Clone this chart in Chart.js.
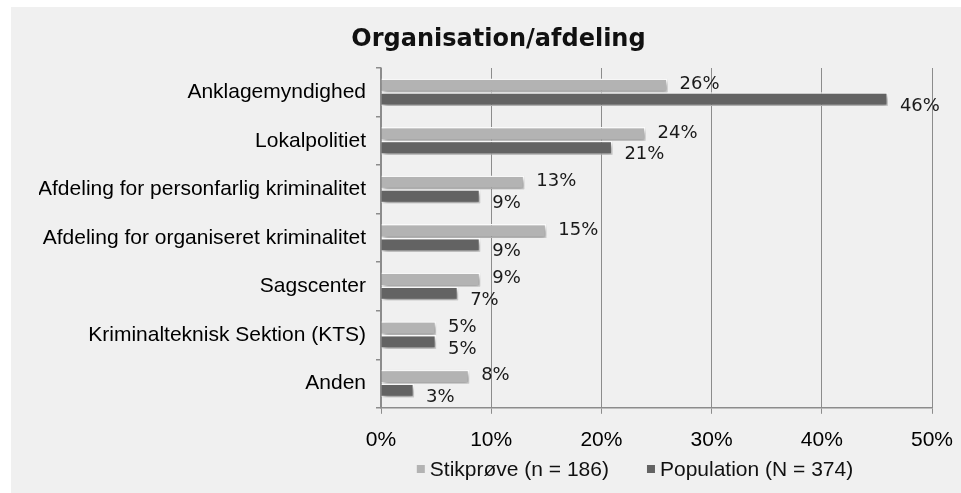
<!DOCTYPE html>
<html>
<head>
<meta charset="utf-8">
<title>Organisation/afdeling</title>
<script src="https://cdn.jsdelivr.net/npm/chart.js@4.4.0/dist/chart.umd.min.js"></script>
<style>
  html, body { margin: 0; padding: 0; background: #ffffff; }
  #wrap { width: 961px; height: 493px; }
</style>
</head>
<body>
<div id="wrap"><canvas id="orgChart" width="961" height="493"></canvas></div>
<script>
// ---- data ----
const categories = [
  "Anklagemyndighed",
  "Lokalpolitiet",
  "Afdeling for personfarlig kriminalitet",
  "Afdeling for organiseret kriminalitet",
  "Sagscenter",
  "Kriminalteknisk Sektion (KTS)",
  "Anden"
];
const stikproeve = [26, 24, 13, 15, 9, 5, 8];
const population = [46, 21, 9, 9, 7, 5, 3];
const xTicks = [0, 10, 20, 30, 40, 50];
const seriesNames = ["Stikprøve (n = 186)", "Population (N = 374)"];

const LABEL_FONT = '"Liberation Sans", Arial, sans-serif';
const VALUE_FONT = '"DejaVu Sans", sans-serif';

// grey panel behind the chart (white strip at left and top)
const panelBg = {
  id: "panelBg",
  beforeDraw(chart) {
    const ctx = chart.ctx;
    ctx.save();
    ctx.fillStyle = "#f0f0f0";
    ctx.fillRect(11, 7, chart.width - 11, chart.height - 7);
    ctx.restore();
  }
};

// soft drop shadow under the bars
const barShadow = {
  id: "barShadow",
  beforeDatasetsDraw(chart) {
    const ctx = chart.ctx;
    ctx.save();
    ctx.shadowColor = "rgba(0,0,0,0.4)";
    ctx.shadowBlur = 5;
    ctx.shadowOffsetX = 2;
    ctx.shadowOffsetY = 3;
  },
  afterDatasetsDraw(chart) {
    chart.ctx.restore();
  }
};

// percentage labels at the bar ends
const valueLabels = {
  id: "valueLabels",
  afterDatasetsDraw(chart) {
    const ctx = chart.ctx;
    ctx.save();
    ctx.font = "18px " + VALUE_FONT;
    ctx.fillStyle = "#1a1a1a";
    ctx.textBaseline = "middle";
    chart.data.datasets.forEach((ds, i) => {
      const dy = i === 0 ? -1 : 7;
      chart.getDatasetMeta(i).data.forEach((bar, j) => {
        ctx.fillText(ds.data[j] + "%", bar.x + 12, bar.y + dy);
      });
    });
    ctx.restore();
  }
};

// legend row under the axis (sits off-centre like the original)
const bottomLegend = {
  id: "bottomLegend",
  afterDraw(chart) {
    const ctx = chart.ctx;
    const box = 8, gap = 5, itemGap = 38, cy = 469, cx = 635;
    ctx.save();
    ctx.font = "21px " + LABEL_FONT;
    ctx.textBaseline = "middle";
    const items = chart.data.datasets.map(ds => ({
      text: ds.label, color: ds.backgroundColor, w: ctx.measureText(ds.label).width
    }));
    let total = 0;
    items.forEach((it, i) => { total += box + gap + it.w + (i ? itemGap : 0); });
    let x = cx - total / 2;
    items.forEach(it => {
      ctx.fillStyle = it.color;
      ctx.fillRect(x, cy - box / 2, box, box);
      ctx.fillStyle = "#111";
      ctx.fillText(it.text, x + box + gap, cy + 1);
      x += box + gap + it.w + itemGap;
    });
    ctx.restore();
  }
};

new Chart(document.getElementById("orgChart"), {
  type: "bar",
  data: {
    labels: categories,
    datasets: [
      {
        label: seriesNames[0],
        data: stikproeve,
        backgroundColor: "#b3b3b3",
        borderColor: "#ffffff",
        borderWidth: 1.5,
        categoryPercentage: 0.57,
        barPercentage: 1.0
      },
      {
        label: seriesNames[1],
        data: population,
        backgroundColor: "#636363",
        borderColor: "#ffffff",
        borderWidth: 1.5,
        categoryPercentage: 0.57,
        barPercentage: 1.0
      }
    ]
  },
  options: {
    indexAxis: "y",
    responsive: false,
    animation: false,
    layout: { padding: { left: 39, right: 3, top: 0, bottom: 26 } },
    plugins: {
      legend: { display: false },
      tooltip: { enabled: false },
      title: {
        display: true,
        text: "Organisation/afdeling",
        color: "#111",
        font: { family: VALUE_FONT, size: 24, weight: "bold" },
        padding: { top: 25.6, bottom: 13.6 }
      }
    },
    scales: {
      x: {
        min: xTicks[0],
        max: xTicks[xTicks.length - 1],
        afterFit(scale) { scale.paddingRight = 29; },
        grid: { color: "#8c8c8c", lineWidth: 1, tickLength: 6 },
        border: { color: "#8c8c8c", width: 1.5 },
        ticks: {
          stepSize: xTicks[1] - xTicks[0],
          callback: v => v + "%",
          color: "#000",
          font: { family: LABEL_FONT, size: 21 },
          padding: 14,
          maxRotation: 0
        }
      },
      y: {
        afterFit(scale) { scale.width = 342; },
        grid: { drawOnChartArea: false, tickLength: 5, color: "#8c8c8c", lineWidth: 1.5 },
        border: { color: "#8c8c8c", width: 1.5 },
        ticks: {
          color: "#000",
          font: { family: LABEL_FONT, size: 21 },
          padding: 10
        }
      }
    }
  },
  plugins: [panelBg, barShadow, valueLabels, bottomLegend]
});
</script>
</body>
</html>
